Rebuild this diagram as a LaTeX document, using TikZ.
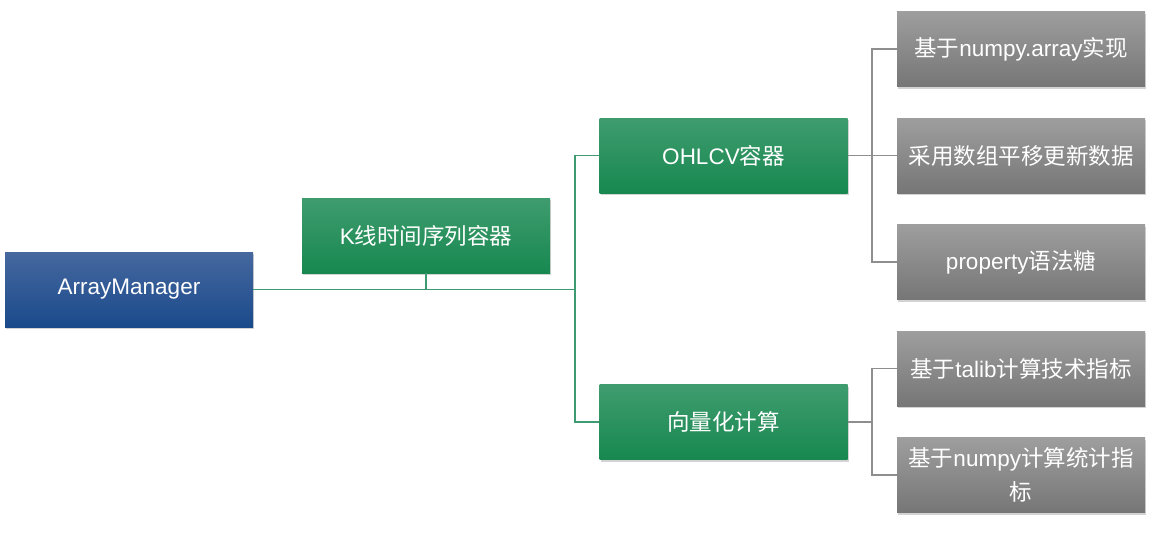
\documentclass[tikz,border=0pt]{standalone}
\usepackage{fontspec}
\setmainfont{Liberation Sans}
\newfontfamily\cjk{Noto Sans CJK SC}
\usetikzlibrary{shadows}

\definecolor{amtop}{HTML}{46689F}
\definecolor{ambot}{HTML}{1A4A8B}
\definecolor{grtop}{HTML}{3F9C6E}
\definecolor{grbot}{HTML}{178850}
\definecolor{gytop}{HTML}{9E9E9E}
\definecolor{gybot}{HTML}{767676}
\definecolor{grline}{HTML}{3E9A70}
\definecolor{gyline}{HTML}{8E8E8E}

\begin{document}
\begin{tikzpicture}[x=1pt,y=-1pt,
    box/.style={minimum width=248pt,minimum height=75pt,inner sep=2pt,text=white,
        font=\fontsize{22.5}{34}\selectfont,align=center,text width=240pt,
        drop shadow={shadow xshift=1pt,shadow yshift=-2pt,opacity=0.35}},
    amb/.style={box,top color=amtop,bottom color=ambot},
    grb/.style={box,top color=grtop,bottom color=grbot},
    gyb/.style={box,top color=gytop,bottom color=gybot},
    gln/.style={grline,line width=1.4pt},
    yln/.style={gyline,line width=1.4pt}]
    \useasboundingbox (0,0) rectangle (1172,533);
    % tree levels
    \node[amb] (am) at (129,289.5) {ArrayManager};
    \node[grb] (kline) at (426,235.5) {K{\cjk 线时间序列容器}};
    \node[grb] (ohlcv) at (723.5,155.5) {OHLCV{\cjk 容器}};
    \node[grb] (vect) at (723.5,422) {{\cjk 向量化计算}};
    \node[gyb] (np) at (1021,49) {{\cjk 基于}numpy.array{\cjk 实现}};
    \node[gyb] (shift) at (1021,155.5) {{\cjk 采用数组平移更新数据}};
    \node[gyb] (prop) at (1021,262) {property{\cjk 语法糖}};
    \node[gyb] (talib) at (1021,368.5) {{\cjk 基于}talib{\cjk 计算技术指标}};
    \node[gyb] (stat) at (1021,475) {{\cjk 基于}numpy{\cjk 计算统计指}\\{\cjk 标}};
    % connectors
    \coordinate (ja) at (575,289.5);
    \coordinate (jb) at (872,155.5);
    \coordinate (jc) at (872,422);
    \draw[gln] (am.east) -- (ja);
    \draw[gln] (kline.south) -- (kline.south |- ja);
    \draw[gln] (ohlcv.west) -| (ja) |- (vect.west);
    \draw[yln] (ohlcv.east) -- (jb) -- (shift.west);
    \draw[yln] (np.west) -| (jb) |- (prop.west);
    \draw[yln] (vect.east) -- (jc);
    \draw[yln] (talib.west) -| (jc) |- (stat.west);
\end{tikzpicture}
\end{document}
